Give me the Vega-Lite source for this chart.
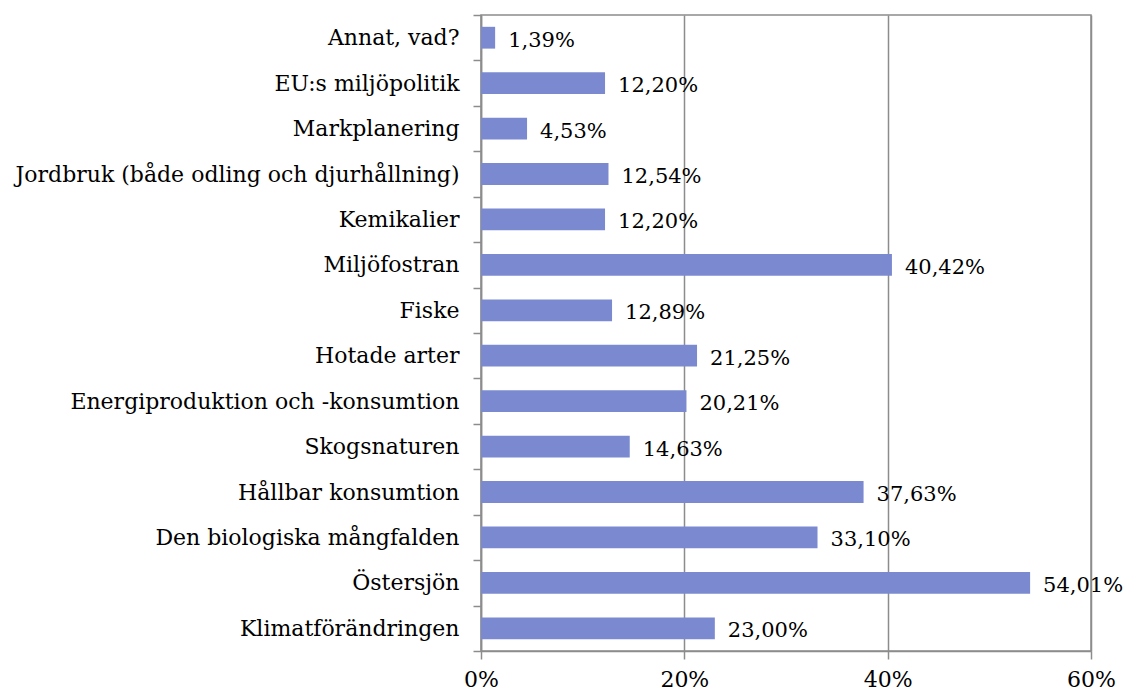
{
  "$schema": "https://vega.github.io/schema/vega-lite/v6.json",
  "width": 610,
  "height": 636,
  "autosize": {"type": "none"},
  "padding": {"left": 481, "top": 15, "right": 34, "bottom": 41},
  "background": "white",
  "config": {
    "locale": {"number": {"decimal": ",", "thousands": " ", "grouping": [3], "currency": ["", " kr"]}},
    "view": {"stroke": "#8c8c8c", "strokeWidth": 1.5},
    "font": "DejaVu Serif"
  },
  "data": {"values": [
    {"kategori": "Annat, vad?", "andel": 0.0139},
    {"kategori": "EU:s miljöpolitik", "andel": 0.1220},
    {"kategori": "Markplanering", "andel": 0.0453},
    {"kategori": "Jordbruk (både odling och djurhållning)", "andel": 0.1254},
    {"kategori": "Kemikalier", "andel": 0.1220},
    {"kategori": "Miljöfostran", "andel": 0.4042},
    {"kategori": "Fiske", "andel": 0.1289},
    {"kategori": "Hotade arter", "andel": 0.2125},
    {"kategori": "Energiproduktion och -konsumtion", "andel": 0.2021},
    {"kategori": "Skogsnaturen", "andel": 0.1463},
    {"kategori": "Hållbar konsumtion", "andel": 0.3763},
    {"kategori": "Den biologiska mångfalden", "andel": 0.3310},
    {"kategori": "Östersjön", "andel": 0.5401},
    {"kategori": "Klimatförändringen", "andel": 0.2300}
  ]},
  "encoding": {
    "y": {
      "field": "kategori", "type": "nominal", "sort": null,
      "scale": {"paddingInner": 0, "paddingOuter": 0},
      "axis": {
        "title": null, "tickBand": "extent", "tickSize": 8, "tickColor": "#8c8c8c", "tickWidth": 1.5,
        "domainColor": "#8c8c8c", "domainWidth": 1.5, "labelPadding": 14,
        "labelFont": "DejaVu Serif", "labelFontSize": 22, "labelColor": "#000", "labelLimit": 500
      }
    },
    "x": {
      "field": "andel", "type": "quantitative",
      "scale": {"domain": [0, 0.6], "nice": false},
      "axis": {
        "title": null, "format": ".0%", "values": [0, 0.2, 0.4, 0.6],
        "grid": true, "gridColor": "#8c8c8c", "gridWidth": 1.5,
        "tickSize": 8, "tickColor": "#8c8c8c", "tickWidth": 1.5,
        "domainColor": "#8c8c8c", "domainWidth": 1.5, "labelPadding": 10,
        "labelFont": "DejaVu Serif", "labelFontSize": 22, "labelColor": "#000", "labelFlush": false
      }
    }
  },
  "layer": [
    {"mark": {"type": "bar", "color": "#7b8ad0", "height": {"band": 0.48}}},
    {
      "mark": {"type": "text", "align": "left", "baseline": "middle", "dx": 13, "dy": 3, "font": "DejaVu Serif", "fontSize": 21, "color": "#000"},
      "encoding": {"text": {"field": "andel", "type": "quantitative", "format": ".2%"}}
    }
  ]
}
